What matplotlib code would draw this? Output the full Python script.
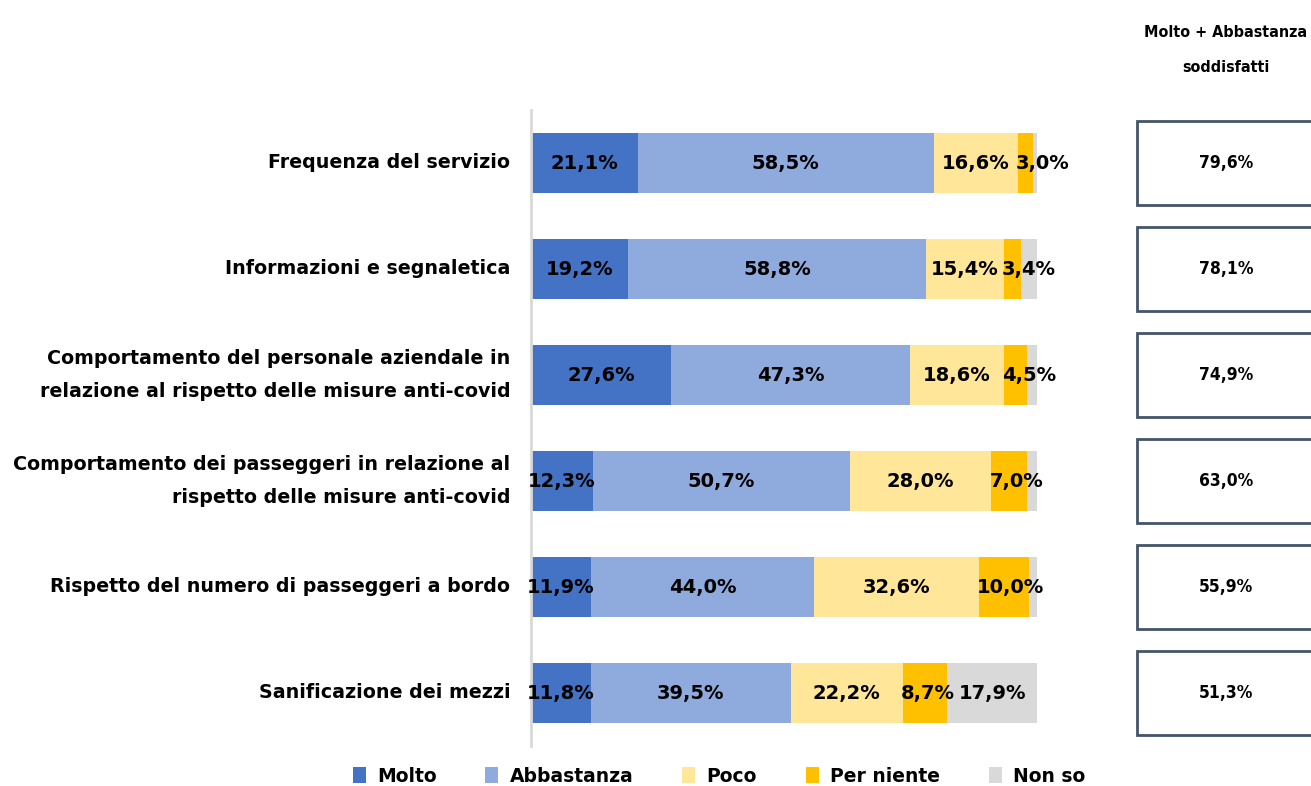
import matplotlib
matplotlib.use("Agg")
import matplotlib.pyplot as plt
from matplotlib.patches import Rectangle, Patch

categories = [
    "Frequenza del servizio",
    "Informazioni e segnaletica",
    "Comportamento del personale aziendale in\nrelazione al rispetto delle misure anti-covid",
    "Comportamento dei passeggeri in relazione al\nrispetto delle misure anti-covid",
    "Rispetto del numero di passeggeri a bordo",
    "Sanificazione dei mezzi",
]
molto = [21.1, 19.2, 27.6, 12.3, 11.9, 11.8]
abbastanza = [58.5, 58.8, 47.3, 50.7, 44.0, 39.5]
poco = [16.6, 15.4, 18.6, 28.0, 32.6, 22.2]
per_niente = [3.0, 3.4, 4.5, 7.0, 10.0, 8.7]
non_so = [0.8, 3.2, 2.0, 2.0, 1.5, 17.9]
soddisfatti = [79.6, 78.1, 74.9, 63.0, 55.9, 51.3]

series = ["Molto", "Abbastanza", "Poco", "Per niente", "Non so"]
colors = ["#4472C4", "#8FAADC", "#FFE699", "#FFC000", "#D9D9D9"]
values = [molto, abbastanza, poco, per_niente, non_so]
show_label = [[True] * 6, [True] * 6, [True] * 6, [True] * 6,
              [False, False, False, False, False, True]]

narrow = dict(family="DejaVu Sans", stretch="condensed")

fig = plt.figure(figsize=(13.11, 7.86), dpi=100)
ax = fig.add_axes([531 / 1311, 1 - 746 / 786, 506 / 1311, 636 / 786])

y = list(range(len(categories)))
left = [0.0] * len(categories)
for s, (name, vals, col) in enumerate(zip(series, values, colors)):
    ax.barh(y, vals, left=left, height=0.57, color=col, label=name)
    for i, v in enumerate(vals):
        if not show_label[s][i]:
            continue
        txt = f"{v:.1f}%".replace(".", ",")
        if name == "Per niente":
            ax.text(left[i] - 0.4, i, txt, ha="left", va="center",
                    fontsize=14, fontweight="bold", color="black")
        else:
            ax.text(left[i] + v / 2, i, txt, ha="center", va="center",
                    fontsize=14, fontweight="bold", color="black")
    left = [l + v for l, v in zip(left, vals)]

ax.set_xlim(0, 100)
ax.set_ylim(len(categories) - 0.5, -0.5)
ax.set_yticks(y)
ax.set_yticklabels(categories, fontsize=13.7, fontweight="bold", linespacing=1.9)
for lbl in ax.get_yticklabels():
    lbl.set_va("center")
ax.tick_params(axis="y", length=0, pad=15)
ax.set_xticks([])
for sp in ["top", "right", "bottom"]:
    ax.spines[sp].set_visible(False)
ax.spines["left"].set_color("#D9D9D9")
ax.spines["left"].set_linewidth(2)

# right-hand column: Molto + Abbastanza
fig.text(1226 / 1311, 1 - 50 / 786, "Molto + Abbastanza\nsoddisfatti", ha="center",
         va="center", fontsize=11.5, fontweight="bold", linespacing=2.6, **narrow)
box_h = 84 / 786
for i, v in enumerate(soddisfatti):
    disp = ax.transData.transform((0, i))
    fy = fig.transFigure.inverted().transform(disp)[1]
    fig.patches.append(Rectangle((1137 / 1311, fy - box_h / 2), 0.2, box_h,
                                 transform=fig.transFigure, facecolor="white",
                                 edgecolor="#44546A", linewidth=2))
    fig.text(1226 / 1311, fy, f"{v:.1f}%".replace(".", ","), ha="center", va="center",
             fontsize=12.5, fontweight="bold", **narrow)

handles = [Patch(facecolor=c, edgecolor="none") for c in colors]
fig.legend(handles, series, loc="center", bbox_to_anchor=(719 / 1311, 1 - 776 / 786),
           ncol=5, frameon=False, prop={"size": 13.5, "weight": "bold"},
           handlelength=0.7, handleheight=0.9, handletextpad=0.6, columnspacing=2.6)

fig.savefig("out.png", dpi=100)
